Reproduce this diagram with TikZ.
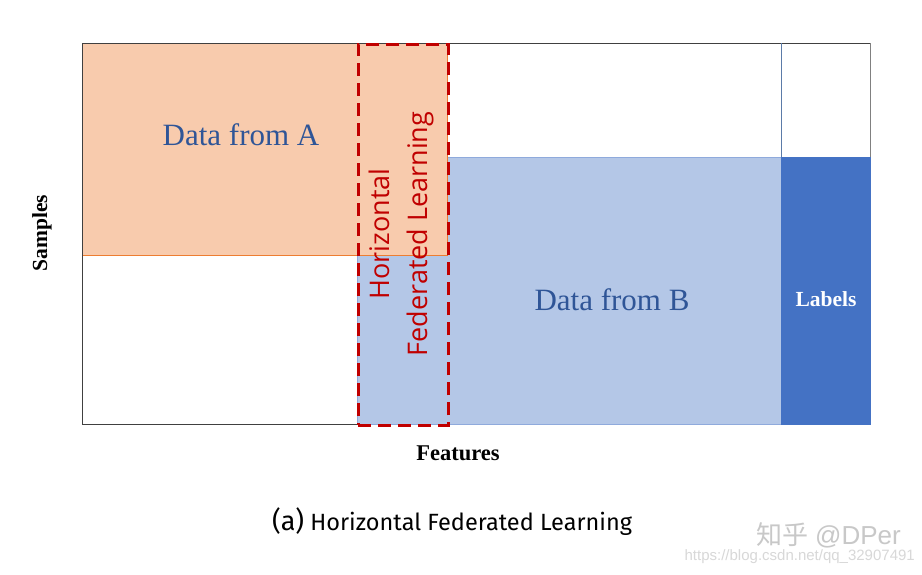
\documentclass[tikz,border=0pt]{standalone}
\usepackage{fontspec}
\setmainfont{Liberation Serif}
\newfontfamily\hflfont{Open Sans}
\newfontfamily\capfont{Fira Sans}
\newfontfamily\cjkfont{Noto Sans CJK SC}
\newfontfamily\wmfont{Liberation Sans}
\definecolor{orangefill}{HTML}{F8CBAD}
\definecolor{orangeedge}{HTML}{ED7D31}
\definecolor{bluefill}{HTML}{B4C7E7}
\definecolor{blueedge}{HTML}{8FAADC}
\definecolor{labelblue}{HTML}{4472C4}
\definecolor{textblue}{HTML}{2F5597}
\definecolor{hflred}{HTML}{C00000}
\definecolor{framegray}{HTML}{404040}
\definecolor{divider}{HTML}{5B7BA8}
\definecolor{wmgray}{HTML}{C8C8C8}
\begin{document}
\begin{tikzpicture}[x=1pt,y=-1pt,
  region/.style={anchor=north west,inner sep=0pt,outer sep=0pt,line width=0.6pt},
  datatext/.style={text=textblue,font=\fontsize{31}{36}\selectfont},
  axistext/.style={font=\bfseries\fontsize{22.5}{26}\selectfont},
  hfltext/.style={text=hflred,font=\hflfont\fontsize{27}{38}\selectfont,align=center,rotate=90},
  hflbox/.style={draw=hflred,line width=2.6pt,dash pattern=on 13pt off 7pt,anchor=north west,inner sep=0pt,fill=none},
  frame/.style={draw=framegray,line width=0.8pt}
]
\useasboundingbox (0,0) rectangle (922,574);
\fill[white] (0,0) rectangle (922,574);
% corner coordinates
\coordinate (tl) at (82,43);
\coordinate (tr) at (870,43);
\coordinate (bl) at (82,424);
\coordinate (divtop) at (781,43);
\coordinate (divbot) at (781,157);
\coordinate (bm) at (357,424);
\coordinate (rb) at (870,157);
% regions
\node[region,draw=blueedge,fill=bluefill,minimum width=424pt,minimum height=267pt] (B) at (357,157) {};
\node[region,draw=orangeedge,fill=orangefill,minimum width=365pt,minimum height=212pt] (A) at (82,43) {};
\node[region,draw=labelblue,fill=labelblue,minimum width=89pt,minimum height=267pt] (L) at (781,157) {};
% frame lines
\draw[frame] (bm) -- (bl) -- (tl) -- (tr);
\draw[draw=gray,line width=0.8pt] (tr) -- (rb);
\draw[draw=divider,line width=0.8pt] (divtop) -- (divbot);
% dashed box
\node[hflbox,minimum width=90pt,minimum height=381pt] (H) at (357,43) {};
% texts
\node[datatext] (ta) at (241,135) {Data from A};
\node[datatext] (tb) at (612,300) {Data from B};
\node[text=white,font=\bfseries\fontsize{21.5}{25}\selectfont] (tl2) at (826,299) {Labels};
\node[font=\bfseries\fontsize{21.5}{25}\selectfont,rotate=90] (ts) at (42,233) {Samples};
\node[axistext] (tf) at (458,453) {Features};
\node[hfltext] (th) at (401,234) {Horizontal\\Federated Learning};
\node[font=\capfont\fontsize{23.5}{27}\selectfont] (cap) at (452,522) {{\fontsize{27}{30}\selectfont(a)} Horizontal Federated Learning};
% watermark
\node[text=wmgray,font=\fontsize{26}{28}\selectfont,anchor=east,inner sep=1pt] (wm1) at (902,535) {{\cjkfont 知乎} {\wmfont @DPer}};
\node[text=wmgray!70,font=\wmfont\fontsize{15}{16}\selectfont,anchor=north east,inner sep=1pt] (wm2) at (916,548) {https://blog.csdn.net/qq\_32907491};
\end{tikzpicture}
\end{document}
